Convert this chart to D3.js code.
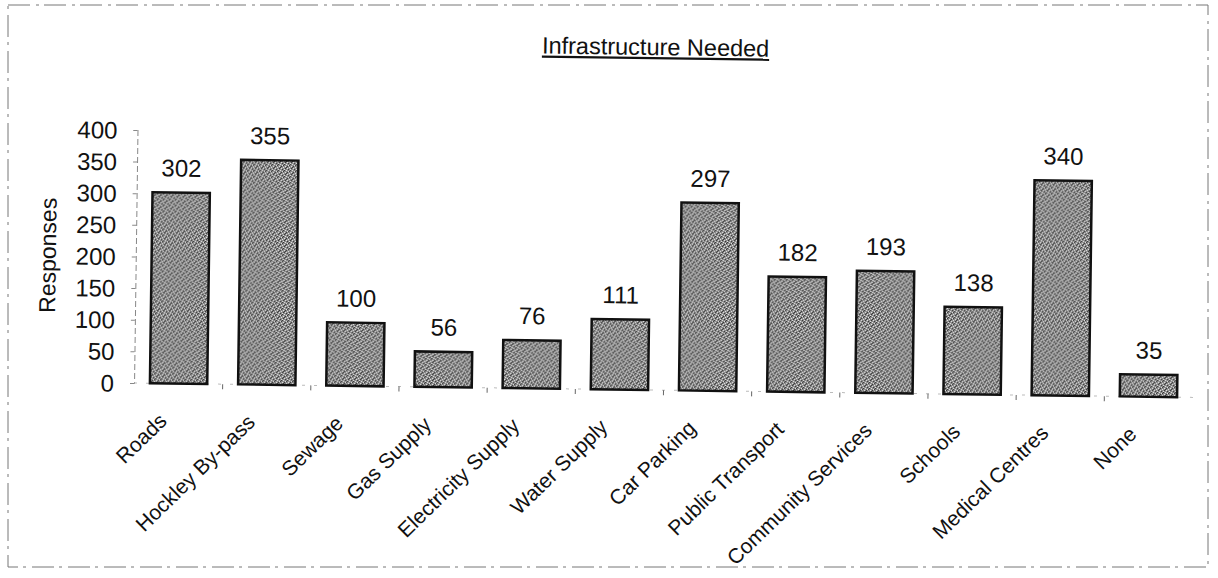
<!DOCTYPE html>
<html>
<head>
<meta charset="utf-8">
<script src="https://cdn.jsdelivr.net/npm/d3@7"></script>
<style>
  body { margin: 0; background: #fff; }
  text { font-family: "Liberation Sans", Arial, sans-serif; fill: #111; }
</style>
</head>
<body>
<svg id="chart" width="1218" height="578"></svg>
<script>
// ====================================================================
// data
var categories = ["Roads", "Hockley By-pass", "Sewage", "Gas Supply", "Electricity Supply",
  "Water Supply", "Car Parking", "Public Transport", "Community Services", "Schools",
  "Medical Centres", "None"];
var responses = [302, 355, 100, 56, 76, 111, 297, 182, 193, 138, 340, 35];
var y_ticks = [0, 50, 100, 150, 200, 250, 300, 350, 400];
var str_title = "Infrastructure Needed";
var str_y_label = "Responses";
// ====================================================================

var margin = {top: 137, left: 134, right: 25, bottom: 188};
var full_w = 1218, full_h = 578;
var width = full_w - margin.left - margin.right,
    height = full_h - margin.top - margin.bottom;

// scan is slightly tilted
var flt_tilt = 0.78;

var svg = d3.select("#chart");

// stippled grey fill like the scanned bars
var defs = svg.append("defs");
var pat = defs.append("pattern")
  .attr("id", "stipple")
  .attr("patternUnits", "userSpaceOnUse")
  .attr("width", 6).attr("height", 6);
pat.append("rect").attr("width", 6).attr("height", 6).attr("fill", "#8a8a8a");
var dots_white = [[0,0],[3,1],[1,3],[4,4],[5,2],[2,5]];
var dots_black = [[1,1],[4,0],[2,3],[5,5],[0,4],[3,2]];
dots_white.forEach(function(p) {
  pat.append("rect").attr("x", p[0]).attr("y", p[1]).attr("width", 1).attr("height", 1).attr("fill", "#e8e8e8");
});
dots_black.forEach(function(p) {
  pat.append("rect").attr("x", p[0]).attr("y", p[1]).attr("width", 1).attr("height", 1).attr("fill", "#333");
});

// faint scanned frame
svg.append("rect")
  .attr("x", 8).attr("y", 5)
  .attr("width", 1200).attr("height", 562)
  .attr("fill", "none")
  .attr("stroke", "#777")
  .attr("stroke-width", 1)
  .attr("stroke-dasharray", "22,6,3,5");

var tilt_group = svg.append("g")
  .attr("transform", "rotate(" + flt_tilt + ",651," + (margin.top + height) + ")");

// title
tilt_group.append("text")
  .attr("x", 651)
  .attr("y", 55)
  .attr("text-anchor", "middle")
  .style("font-size", "23.5px")
  .style("text-decoration", "underline")
  .text(str_title);

var group_container = tilt_group.append("g")
  .attr("transform", "translate(" + margin.left + "," + margin.top + ")");

var x = d3.scaleBand()
  .domain(categories)
  .range([0, width])
  .paddingInner(0.35)
  .paddingOuter(0.18);

var y = d3.scaleLinear()
  .domain([0, 400])
  .range([height, 0]);

// y axis
var y_axis_group = group_container.append("g")
  .call(d3.axisLeft(y).tickValues(y_ticks).tickSize(4).tickPadding(16));
y_axis_group.select(".domain")
  .attr("stroke", "#888")
  .attr("stroke-dasharray", "6,3");
y_axis_group.selectAll(".tick line").attr("stroke", "#888");
y_axis_group.selectAll("text")
  .style("font-size", "24px")
  .style("fill", "#111")
  .attr("dy", "0.35em");

// y label
group_container.append("text")
  .attr("transform", "translate(" + (-80) + "," + (height / 2) + ") rotate(-90)")
  .attr("text-anchor", "middle")
  .style("font-size", "23px")
  .text(str_y_label);

// x axis line and tick marks between categories
var step = x.step();
group_container.append("line")
  .attr("x1", 0).attr("x2", width)
  .attr("y1", height).attr("y2", height)
  .attr("stroke", "#bbb")
  .attr("stroke-dasharray", "3,9");

var boundaries = categories.slice(1).map(function(c) { return x(c) - (step - x.bandwidth()) / 2; });
group_container.selectAll(".xtick")
  .data(boundaries)
  .enter()
  .append("line")
  .attr("x1", function(d) { return d; })
  .attr("x2", function(d) { return d; })
  .attr("y1", height)
  .attr("y2", height + 5)
  .attr("stroke", "#666");

// bars
var plot_data = categories.map(function(c, i) { return {cat: c, value: responses[i]}; });

group_container.append("g")
  .selectAll("rect")
  .data(plot_data)
  .enter()
  .append("rect")
  .attr("x", function(d) { return x(d.cat); })
  .attr("y", function(d) { return y(d.value); })
  .attr("width", x.bandwidth())
  .attr("height", function(d) { return height - y(d.value); })
  .attr("fill", "url(#stipple)")
  .attr("stroke", "#111")
  .attr("stroke-width", 2.5);

// value labels
group_container.append("g")
  .selectAll("text")
  .data(plot_data)
  .enter()
  .append("text")
  .attr("x", function(d) { return x(d.cat) + x.bandwidth() / 2; })
  .attr("y", function(d) { return y(d.value) - 16; })
  .attr("text-anchor", "middle")
  .style("font-size", "24px")
  .text(function(d) { return d.value; });

// category labels
group_container.append("g")
  .selectAll("text")
  .data(plot_data)
  .enter()
  .append("text")
  .attr("transform", function(d) {
    var cx = x(d.cat) + x.bandwidth() / 2 - 10;
    return "translate(" + cx + "," + (height + 39) + ") rotate(-45)";
  })
  .attr("text-anchor", "end")
  .style("font-size", "21px")
  .text(function(d) { return d.cat; });
</script>
</body>
</html>
